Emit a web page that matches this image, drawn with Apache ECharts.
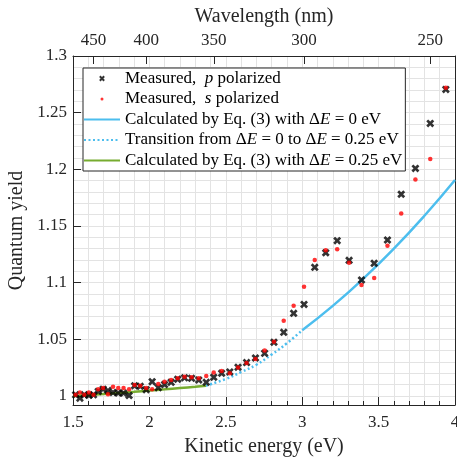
<!DOCTYPE html>
<html><head><meta charset="utf-8">
<script src="https://cdn.jsdelivr.net/npm/echarts@6/dist/echarts.min.js"></script>
<style>html,body{margin:0;padding:0;background:#fff}#c{width:457px;height:461px}
.fl{position:absolute;left:-999px;top:0;font-family:'Liberation Serif';font-size:16px}</style>
</head><body><div id="c"></div>
<div class="fl">Aa1 <i>Ee</i></div>
<script>
// Kinetic energy (eV) of each measurement
const energy = [1.517,1.545,1.574,1.604,1.634,1.665,1.697,1.729,1.762,1.796,
  1.831,1.867,1.903,1.940,1.979,2.018,2.058,2.099,2.142,2.185,
  2.230,2.276,2.323,2.372,2.421,2.473,2.526,2.580,2.636,2.694,
  2.754,2.815,2.879,2.944,3.012,3.082,3.154,3.229,3.307,3.388,
  3.471,3.558,3.648,3.741,3.838,3.940];
const pPolarized = [1.001,0.998,1.001,1.0005,1.001,1.004,1.006,1.0047,1.003,1.0026,
  1.0025,1.0004,1.009,1.0085,1.0055,1.0126,1.0073,1.010,1.012,1.0147,
  1.016,1.0155,1.0141,1.012,1.0165,1.020,1.0212,1.0253,1.0294,1.0335,
  1.0376,1.0474,1.0561,1.0729,1.0808,1.1135,1.1264,1.137,1.1197,1.1023,
  1.117,1.1376,1.178,1.2008,1.2405,1.2705];
const sPolarized = [1.001,1.003,1.001,1.003,1.001,1.006,1.007,1.0015,1.008,1.007,
  1.007,1.006,1.0097,1.009,1.007,1.006,1.0106,1.0126,1.014,1.0156,
  1.017,1.0165,1.0156,1.0176,1.0206,1.022,1.020,1.025,1.029,1.0325,
  1.040,1.0479,1.0664,1.0795,1.0964,1.120,1.1285,1.1295,1.1176,1.098,
  1.104,1.1326,1.161,1.191,1.209,1.272];
// Calculated curves
const calc25E = [1.5,1.6,1.7,1.8,1.9,2.0,2.1,2.2,2.3,2.37];
const calc25Q = [0.9998,1.0008,1.0017,1.0026,1.0036,1.0047,1.0058,1.007,1.0081,1.009];
const transE = [2.37,2.5,2.6,2.7,2.8,2.9,3.0];
const transQ = [1.009,1.015,1.021,1.0275,1.0365,1.0465,1.058];
const calc0E = [3.0,3.2,3.4,3.6,3.8,4.0];
const calc0Q = [1.058,1.0795,1.1035,1.130,1.159,1.1905];
// Axis ticks
const yTicks = [1,1.05,1.1,1.15,1.2,1.25,1.3];
const yGrid = [1.00,1.01,1.02,1.03,1.04,1.05,1.06,1.07,1.08,1.09,1.10,1.11,1.12,1.13,1.14,1.15,
  1.16,1.17,1.18,1.19,1.20,1.21,1.22,1.23,1.24,1.25,1.26,1.27,1.28,1.29,1.30];
const wavelengthTicks = [450,400,350,300,250];
const workOffset = 1.121; // photon energy minus kinetic energy (eV)
const hc = 1239.84;

const FONT = "'Liberation Serif', 'Times New Roman', serif";
const AX = '#262626';
const GRID = '#e3e3e3';
const zip = (a,b) => a.map((v,i)=>[v,b[i]]);
const xMark = 'path://M2.4,0L5,2.6L7.6,0L10,2.4L7.4,5L10,7.6L7.6,10L5,7.4L2.4,10L0,7.6L2.6,5L0,2.4Z';
const xMarkLegend = 'path://M-8,-8M18,18M2.4,0L5,2.6L7.6,0L10,2.4L7.4,5L10,7.6L7.6,10L5,7.4L2.4,10L0,7.6L2.6,5L0,2.4Z';
const dotLegend = 'path://M-10,-10M20,20M2,5a3,3 0 1,0 6,0a3,3 0 1,0 -6,0Z';
const noSymbol = 'path://M0,0M10,10';

const names = {
  p: '{n|Measured,  }{i|p}{n| polarized}',
  s: '{n|Measured,  }{i|s}{n| polarized}',
  c0: '{n|Calculated by Eq. (3) with Δ}{i|E}{n| = 0 eV}',
  tr: '{n|Transition from Δ}{i|E}{n| = 0 to Δ}{i|E}{n| = 0.25 eV}',
  c25: '{n|Calculated by Eq. (3) with Δ}{i|E}{n| = 0.25 eV}'
};

function buildOption() {
  return {
  animation: false,
  backgroundColor: '#fff',
  textStyle: {fontFamily: FONT},
  grid: {left: 73, right: 2, top: 56, bottom: 56, containLabel: false, outerBoundsMode: 'none'},
  legend: {
    orient: 'vertical', left: 83, top: 68,
    itemWidth: 36, itemHeight: 15, itemGap: 3.5,
    padding: [2, 3, 2, 0],
    backgroundColor: '#fff', borderColor: AX, borderWidth: 1,
    textStyle: {fontFamily: FONT, fontSize: 17, color: '#000',
      rich: {n: {fontFamily: FONT, fontSize: 17, color: '#000'},
             i: {fontFamily: FONT, fontSize: 17, color: '#000', fontStyle: 'italic'}}},
    formatter: n => names[n],
    data: [
      {name: 'p', icon: xMarkLegend},
      {name: 's', icon: dotLegend},
      {name: 'c0'}, {name: 'tr'}, {name: 'c25'}
    ],
    selectedMode: false
  },
  xAxis: [{
    type: 'value', min: 1.5, max: 4, interval: 0.5, position: 'bottom',
    name: 'Kinetic energy (eV)', nameLocation: 'middle', nameGap: 32,
    nameTextStyle: {fontFamily: FONT, fontSize: 20, color: AX},
    axisLine: {show: true, onZero: false, lineStyle: {color: AX, width: 1}},
    axisTick: {inside: true, length: 8, lineStyle: {color: AX}},
    minorTick: {show: true, splitNumber: 5, length: 4, lineStyle: {color: AX}},
    axisLabel: {fontFamily: FONT, fontSize: 17, color: AX, margin: 9,
      formatter: v => String(+v.toFixed(1))},
    splitLine: {show: true, lineStyle: {color: GRID, width: 1}},
    minorSplitLine: {show: true, lineStyle: {color: GRID, width: 1}}
  }, {
    type: 'value', min: 1.5, max: 4, position: 'top',
    name: 'Wavelength (nm)', nameLocation: 'middle', nameGap: 25,
    nameTextStyle: {fontFamily: FONT, fontSize: 20, color: AX},
    axisLine: {show: true, onZero: false, lineStyle: {color: AX, width: 1}},
    axisTick: {inside: true, length: 8, lineStyle: {color: AX},
      customValues: wavelengthTicks.map(w => hc / w - workOffset)},
    axisLabel: {fontFamily: FONT, fontSize: 17, color: AX, margin: 7,
      customValues: wavelengthTicks.map(w => hc / w - workOffset),
      formatter: v => String(Math.round(hc / (v + workOffset)))},
    splitLine: {show: false}
  }],
  yAxis: [{
    type: 'value', min: 0.992, max: 1.3, position: 'left',
    name: 'Quantum yield', nameLocation: 'middle', nameGap: 40,
    nameTextStyle: {fontFamily: FONT, fontSize: 20, color: AX},
    axisLine: {show: true, onZero: false, lineStyle: {color: AX, width: 1}},
    axisTick: {inside: true, length: 8, lineStyle: {color: AX}, customValues: yTicks},
    axisLabel: {fontFamily: FONT, fontSize: 17, color: AX, margin: 6, customValues: yTicks,
      formatter: v => String(+v.toFixed(2))},
    splitLine: {show: false}
  }, {
    type: 'value', min: 0.992, max: 1.3, position: 'right',
    axisLine: {show: true, onZero: false, lineStyle: {color: AX, width: 1}},
    axisTick: {show: false}, axisLabel: {show: false}, splitLine: {show: false}
  }, {
    type: 'value', min: 0.992, max: 1.3, position: 'left', show: true,
    axisLine: {show: false}, axisLabel: {show: false},
    axisTick: {show: false, customValues: yGrid},
    splitLine: {show: true, lineStyle: {color: GRID, width: 1}}
  }],
  series: [
    {name: 'p', type: 'scatter', z: 3, data: zip(energy, pPolarized),
     symbol: xMark, symbolSize: 8, itemStyle: {color: '#000'}},
    {name: 's', type: 'scatter', z: 4, data: zip(energy, sPolarized),
     symbol: 'circle', symbolSize: 4.5, itemStyle: {color: '#ff0000'}},
    {name: 'c0', type: 'line', z: 2, data: zip(calc0E, calc0Q), smooth: true,
     symbol: noSymbol, showSymbol: false, lineStyle: {color: '#4dbeee', width: 2.5}, itemStyle: {color: '#4dbeee'}},
    {name: 'tr', type: 'line', z: 2, data: zip(transE, transQ), smooth: true,
     symbol: noSymbol, showSymbol: false, lineStyle: {color: '#4dbeee', width: 2.5, type: [2, 2.5]}, itemStyle: {color: '#4dbeee'}},
    {name: 'c25', type: 'line', z: 2, data: zip(calc25E, calc25Q), smooth: true,
     symbol: noSymbol, showSymbol: false, lineStyle: {color: '#77ac30', width: 2.5}, itemStyle: {color: '#77ac30'}}
  ]
  };
}

let chart = null;
function draw() {
  if (chart) chart.dispose();
  chart = echarts.init(document.getElementById('c'), null, {renderer: 'canvas'});
  chart.setOption(buildOption());
}
const loads = [
  document.fonts.load('16px "Liberation Serif"', 'Aa1'),
  document.fonts.load('italic 16px "Liberation Serif"', 'Ee')
];
Promise.all(loads).then(() => document.fonts.ready).then(draw, draw);
setTimeout(draw, 400);
</script>
</body></html>
